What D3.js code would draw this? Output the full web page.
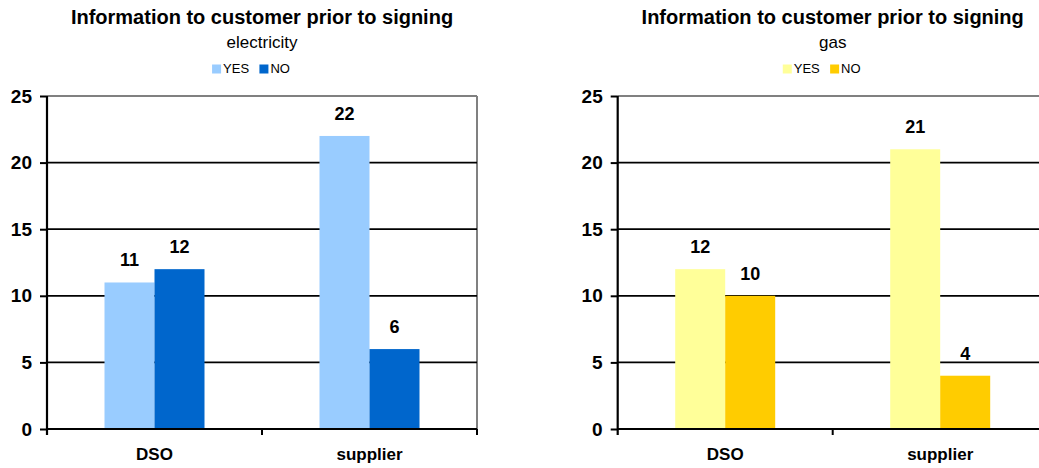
<!DOCTYPE html>
<html>
<head>
<meta charset="utf-8">
<script src="https://cdn.jsdelivr.net/npm/d3@7"></script>
<style>
  html, body { margin: 0; padding: 0; background: #fff; }
  svg { display: block; font-family: "Liberation Sans", Arial, Helvetica, sans-serif; }
</style>
</head>
<body>
<svg id="chart" width="1039" height="468"></svg>
<script>
// Survey answers: was the customer informed before signing?
const categories = ["DSO", "supplier"];
const seriesNames = ["YES", "NO"];
const electricityYes = [11, 22];
const electricityNo = [12, 6];
const gasYes = [12, 21];
const gasNo = [10, 4];
const yTicks = [0, 5, 10, 15, 20, 25];

const panels = [
  { title: "Information to customer prior to signing", subtitle: "electricity",
    values: [electricityYes, electricityNo], colors: ["#99CCFF", "#0066CC"], left: 47 },
  { title: "Information to customer prior to signing", subtitle: "gas",
    values: [gasYes, gasNo], colors: ["#FFFF99", "#FFCC00"], left: 617.7 }
];

const svg = d3.select("#chart");
const plotW = 430, plotTop = 96, plotBottom = 429;

panels.forEach(p => {
  const g = svg.append("g").attr("transform", `translate(${p.left},0)`);
  const x0 = d3.scaleBand().domain(categories).range([0, plotW]).padding(0);
  const x1 = d3.scaleBand().domain(seriesNames)
    .range([(x0.bandwidth() - 100) / 2, (x0.bandwidth() + 100) / 2]);
  const y = d3.scaleLinear().domain([0, 25]).range([plotBottom, plotTop]);
  const color = d3.scaleOrdinal().domain(seriesNames).range(p.colors);

  // frame: grey top and right borders
  g.append("line").attr("x1", 0).attr("x2", plotW).attr("y1", y(25)).attr("y2", y(25))
    .attr("stroke", "#808080").attr("stroke-width", 2);
  g.append("line").attr("x1", plotW).attr("x2", plotW).attr("y1", y(25)).attr("y2", y(0))
    .attr("stroke", "#808080").attr("stroke-width", 2);

  // horizontal gridlines
  g.selectAll(".grid").data(yTicks.filter(t => t > 0 && t < 25)).enter().append("line")
    .attr("x1", 0).attr("x2", plotW)
    .attr("y1", d => y(d)).attr("y2", d => y(d))
    .attr("stroke", "#000").attr("stroke-width", 1.8);

  // bars
  const rows = [];
  categories.forEach((c, i) => seriesNames.forEach((s, j) => rows.push({ c, s, v: p.values[j][i] })));
  g.selectAll(".bar").data(rows).enter().append("rect")
    .attr("x", d => x0(d.c) + x1(d.s))
    .attr("width", x1.bandwidth())
    .attr("y", d => y(d.v))
    .attr("height", d => y(0) - y(d.v))
    .attr("fill", d => color(d.s));

  // value labels
  g.selectAll(".val").data(rows).enter().append("text")
    .attr("x", d => x0(d.c) + x1(d.s) + x1.bandwidth() / 2)
    .attr("y", d => y(d.v) - 16)
    .attr("text-anchor", "middle")
    .attr("font-size", 18).attr("font-weight", "bold")
    .text(d => d.v);

  // y axis
  const yAxis = d3.axisLeft(y).tickValues(yTicks).tickSize(7).tickPadding(8);
  const ya = g.append("g").call(yAxis);
  ya.select(".domain").remove();
  ya.selectAll(".tick line").attr("stroke", "#000").attr("stroke-width", 2);
  ya.selectAll(".tick text").attr("font-size", 19).attr("font-weight", "bold")
    .attr("fill", "#000");
  ya.attr("font-family", null).attr("font-size", null);
  g.append("line").attr("x1", 0).attr("x2", 0).attr("y1", y(25)).attr("y2", y(0) + 6)
    .attr("stroke", "#000").attr("stroke-width", 2.2);

  // x axis baseline and category ticks
  g.append("line").attr("x1", 0).attr("x2", plotW).attr("y1", y(0)).attr("y2", y(0))
    .attr("stroke", "#000").attr("stroke-width", 2);
  g.selectAll(".xt").data(categories.slice(1).concat(["end"])).enter().append("line")
    .attr("x1", (d, i) => x0.bandwidth() * (i + 1)).attr("x2", (d, i) => x0.bandwidth() * (i + 1))
    .attr("y1", y(0)).attr("y2", y(0) + 6)
    .attr("stroke", "#000").attr("stroke-width", 2);
  g.selectAll(".cat").data(categories).enter().append("text")
    .attr("x", d => x0(d) + x0.bandwidth() / 2)
    .attr("y", 460)
    .attr("text-anchor", "middle")
    .attr("font-size", 17).attr("font-weight", "bold")
    .text(d => d);

  // titles
  const cx = plotW / 2;
  g.append("text").attr("x", cx).attr("y", 24).attr("text-anchor", "middle")
    .attr("font-size", 20).attr("font-weight", "bold").text(p.title);
  g.append("text").attr("x", cx).attr("y", 48).attr("text-anchor", "middle")
    .attr("font-size", 17).text(p.subtitle);

  // legend, sitting slightly left of the plot centre
  const leg = g.append("g");
  const items = leg.selectAll(".li").data(seriesNames).enter().append("g");
  items.append("rect").attr("width", 9).attr("height", 9).attr("y", 64.5)
    .attr("fill", d => color(d));
  items.append("text").attr("x", 11).attr("y", 73).attr("font-size", 13).text(d => d);
  let off = 0;
  items.each(function () {
    const w = this.getBBox().width;
    d3.select(this).attr("transform", `translate(${off},0)`);
    off += w + 10;
  });
  const total = off - 10;
  leg.attr("transform", `translate(${cx - 11 - total / 2},0)`);
});
</script>
</body>
</html>
